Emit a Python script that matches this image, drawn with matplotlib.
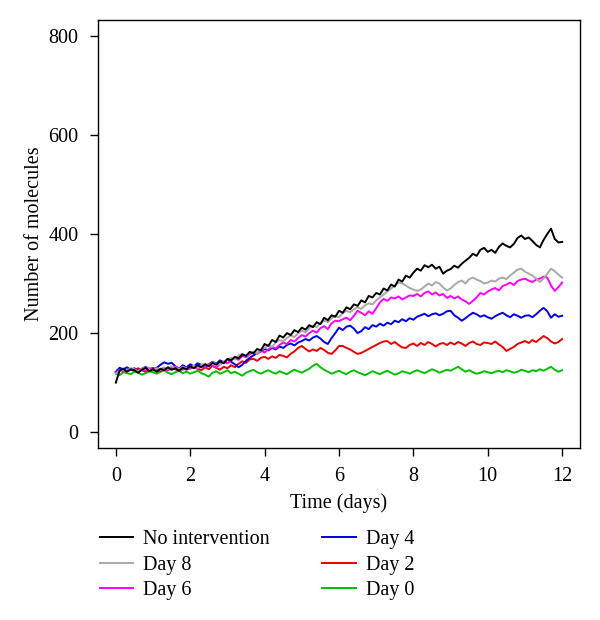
import numpy as np
import matplotlib
matplotlib.use("Agg")
import matplotlib.pyplot as plt

# sampled every 0.1 day from t = 0 to 12
t_days = np.arange(121) * 0.1

no_intervention = [
    100, 124, 128, 122, 127, 125, 120, 126, 130, 123, 127,
    122, 128, 125, 131, 126, 129, 124, 130, 127, 133,
    129, 135, 131, 137, 133, 140, 136, 143, 139, 148,
    145, 152, 149, 157, 154, 162, 159, 168, 165, 178,
    174, 186, 182, 195, 191, 200, 196, 206, 202, 211,
    207, 216, 212, 222, 218, 231, 226, 236, 233, 245,
    241, 252, 248, 258, 255, 266, 262, 275, 272, 281,
    278, 290, 286, 298, 294, 308, 304, 316, 312, 322,
    330, 326, 337, 333, 338, 330, 334, 320, 326, 329,
    336, 332, 340, 346, 352, 360, 356, 368, 372, 364,
    368, 362, 374, 381, 376, 373, 380, 392, 397, 390,
    393, 386, 378, 373, 388, 400, 411, 390, 383, 384,
]
day8 = [
    118, 123, 126, 124, 129, 127, 123, 128, 131, 126, 125,
    129, 126, 131, 128, 133, 129, 127, 132, 129, 131,
    134, 130, 136, 138, 134, 141, 138, 136, 143, 146,
    150, 147, 155, 158, 153, 160, 163, 159, 166, 170,
    176, 172, 181, 186, 183, 190, 195, 192, 199, 205,
    201, 210, 215, 212, 220, 225, 222, 230, 235, 232,
    240, 245, 242, 248, 252, 249, 256, 260, 258, 266,
    272, 278, 284, 290, 296, 302, 300, 296, 291, 288,
    285, 288, 294, 300, 296, 303, 300, 292, 286, 290,
    297, 303, 306, 300, 309, 312, 308, 305, 300, 302,
    306, 304, 310, 312, 309, 316, 322, 328, 330, 324,
    320, 316, 310, 303, 310, 320, 330, 325, 318, 312,
]
day6 = [
    120, 126, 122, 125, 128, 124, 121, 127, 124, 129, 126,
    123, 127, 130, 125, 128, 133, 128, 126, 131, 128,
    132, 128, 135, 131, 138, 134, 130, 137, 142, 139,
    145, 150, 146, 154, 151, 157, 162, 158, 164, 161,
    167, 172, 169, 176, 181, 178, 186, 183, 190, 196,
    193, 200, 205, 201, 210, 214, 208, 220, 225, 224,
    228, 231, 226, 235, 245, 241, 236, 244, 239, 250,
    262, 269, 265, 272, 270, 274, 268, 272, 276, 275,
    279, 274, 281, 284, 278, 282, 276, 279, 271, 275,
    270, 274, 268, 264, 259, 265, 272, 281, 278, 284,
    288, 291, 286, 295, 298, 302, 297, 305, 308, 310,
    306, 303, 308, 310, 314, 312, 296, 285, 293, 302,
]
day4 = [
    122, 130, 127, 131, 126, 129, 124, 128, 132, 127, 125,
    130, 136, 141, 138, 140, 133, 128, 135, 131, 137,
    133, 139, 136, 131, 137, 142, 138, 145, 141, 146,
    142, 137, 131, 136, 144, 150, 155, 160, 163, 168,
    165, 170, 167, 173, 170, 176, 179, 175, 181, 184,
    188, 185, 191, 194, 189, 182, 178, 190, 200, 211,
    206, 213, 215, 209, 200, 204, 212, 208, 216, 213,
    219, 215, 221, 218, 225, 222, 228, 224, 230, 227,
    233, 236, 239, 234, 238, 240, 236, 239, 244, 245,
    236, 231, 225, 230, 236, 241, 238, 233, 236, 232,
    229, 234, 238, 241, 236, 232, 238, 235, 231, 235,
    236, 232, 238, 245, 251, 244, 231, 238, 233, 235,
]
day2 = [
    121, 125, 128, 123, 126, 124, 129, 125, 122, 127, 130,
    126, 123, 128, 125, 131, 127, 124, 129, 126, 130,
    133, 128, 125, 131, 127, 134, 130, 126, 132, 129,
    135, 131, 138, 143, 140, 147, 148, 144, 150, 152,
    148, 153, 150, 156, 154, 151, 158, 163, 170, 174,
    168, 163, 167, 164, 170, 166, 160, 158, 165, 174,
    174, 170, 167, 162, 158, 160, 164, 168, 172, 176,
    180, 183, 184, 178, 182, 176, 171, 170, 176, 179,
    174, 180, 176, 182, 178, 173, 178, 180, 176, 181,
    177, 182, 179, 174, 180, 183, 178, 176, 181, 180,
    178, 183, 177, 172, 164, 168, 172, 178, 181, 184,
    180, 186, 182, 188, 194, 190, 183, 179, 182, 188,
]
day0 = [
    118, 115, 121, 119, 117, 122, 120, 116, 119, 123, 121,
    118, 122, 125, 120, 117, 121, 124, 119, 122, 118,
    121, 124, 119, 116, 112, 120, 123, 118, 121, 125,
    119, 122, 118, 114, 120, 123, 126, 121, 118, 122,
    125, 121, 118, 123, 120, 117, 122, 126, 123, 120,
    124, 128, 134, 138, 131, 126, 122, 118, 121, 124,
    120, 117, 122, 125, 121, 118, 115, 119, 123, 120,
    117, 121, 124, 120, 116, 119, 123, 121, 118, 122,
    125, 122, 119, 123, 127, 124, 120, 123, 126, 124,
    128, 132, 127, 122, 125, 121, 118, 120, 123, 121,
    119, 122, 124, 121, 125, 123, 120, 122, 126, 124,
    121, 125, 123, 127, 124, 128, 132, 126, 122, 125,
]

labels = ["No intervention", "Day 8", "Day 6", "Day 4", "Day 2", "Day 0"]
series = [no_intervention, day8, day6, day4, day2, day0]
colors = ["#000000", "#A8A8A8", "#FF00FF", "#0000E0", "#E80000", "#00C000"]

x_ticks = [0, 2, 4, 6, 8, 10, 12]
y_ticks = [0, 200, 400, 600, 800]

plt.rcParams["font.family"] = ["Liberation Serif", "DejaVu Serif"]

fig = plt.figure(figsize=(6.0, 6.2), dpi=100)
ax = fig.add_axes([0.1633, 0.2774, 0.8034, 0.6903])

lines = {}
# draw from bottom of the stack up so black ends on top
for lab, vals, col in reversed(list(zip(labels, series, colors))):
    assert len(vals) == len(t_days), lab
    (ln,) = ax.plot(t_days, vals, color=col, linewidth=1.4, label=lab)
    lines[lab] = ln

ax.set_xlim(-0.48, 12.48)
ax.set_ylim(-32, 832)
ax.set_xticks(x_ticks)
ax.set_yticks(y_ticks)
ax.tick_params(direction="out", length=6, width=1, labelsize=14.5, pad=8)
for sp in ax.spines.values():
    sp.set_linewidth(1)
ax.set_xlabel("Time (days)", fontsize=14.5, labelpad=5)
ax.set_ylabel("Number of molecules", fontsize=14.5, labelpad=3)

fig.legend(
    [lines[lab] for lab in labels],
    labels,
    loc="upper left",
    bbox_to_anchor=(0.167, 0.145),
    ncol=2,
    frameon=False,
    fontsize=14.5,
    handlelength=1.65,
    handletextpad=0.5,
    columnspacing=2.6,
    labelspacing=0.32,
    borderpad=0,
    borderaxespad=0,
)

fig.savefig("out.png", dpi=100)
